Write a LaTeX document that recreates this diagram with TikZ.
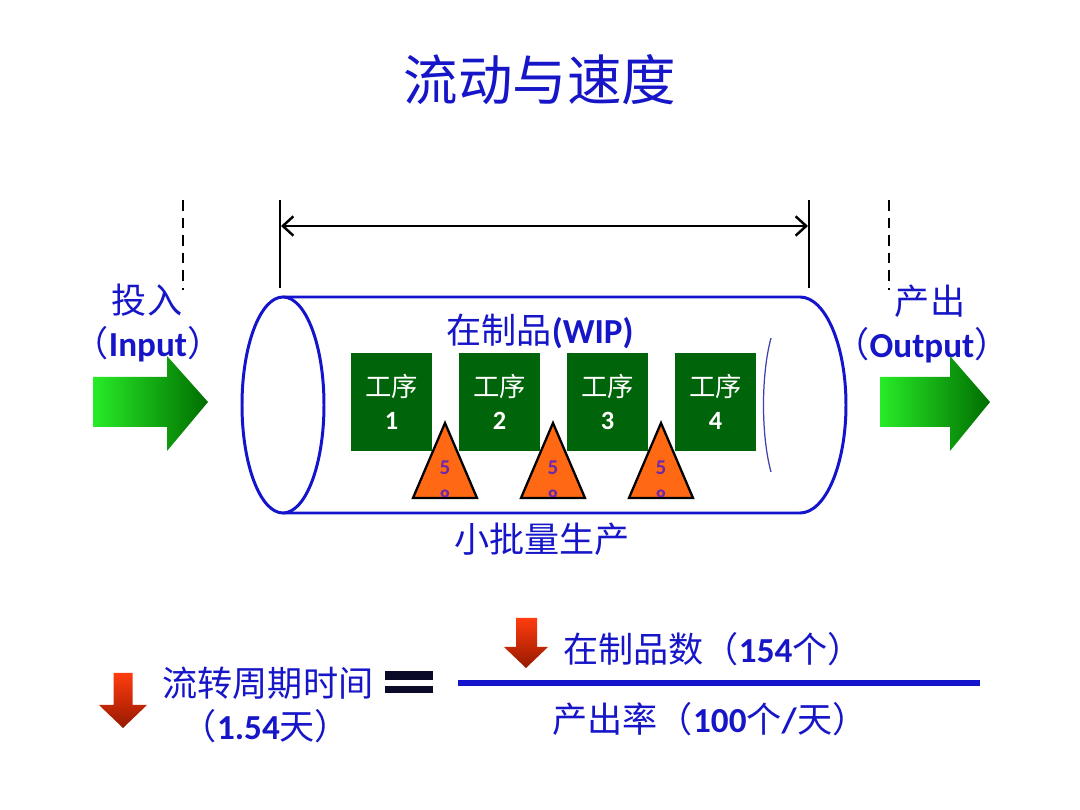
\documentclass[tikz,border=0pt]{standalone}
\usepackage{fontspec}
\setmainfont{Carlito}
\newfontfamily\cjk{Noto Sans CJK SC}
\usetikzlibrary{arrows.meta}
\definecolor{tblue}{RGB}{22,22,200}
\definecolor{cylblue}{RGB}{20,20,205}
\definecolor{boxgreen}{RGB}{0,100,10}
\definecolor{triorange}{RGB}{255,105,20}
\definecolor{tripurple}{RGB}{110,40,170}
\definecolor{arrbright}{RGB}{40,235,40}
\definecolor{arrdark}{RGB}{0,110,0}
\definecolor{redtop}{RGB}{255,60,15}
\definecolor{redbot}{RGB}{150,25,0}
\definecolor{navy}{RGB}{10,10,40}
\tikzset{
  cyl/.style={draw=cylblue, line width=1.7pt},
  stepbox/.style={rectangle, fill=boxgreen, minimum width=1.62cm, minimum height=1.96cm, inner sep=0pt, text=white, align=center, font=\fontsize{15}{19}\selectfont},
  wipbuf/.style={fill=triorange, draw=black, line width=1.3pt, line join=miter},
  bluetext/.style={text=tblue, inner sep=0pt, font=\fontsize{20}{24}\selectfont},
  dimline/.style={draw=black, line width=1.7pt},
  dashline/.style={draw=black, line width=1.6pt, dash pattern=on 6pt off 4pt},
  greenarrow/.style={left color=arrbright, right color=arrdark},
  redarrow/.style={top color=redtop, bottom color=redbot},
  tritext/.style={text=tripurple, font=\bfseries\fontsize{12}{13}\selectfont, inner sep=0pt},
}
\begin{document}
\begin{tikzpicture}[x=0.02cm,y=-0.02cm]
\useasboundingbox[fill=white] (0,0) rectangle (1080,810);

% title
\node[text=tblue, font=\cjk\fontsize{31}{36}\selectfont] (title) at (540,80) {流动与速度};

% dashed boundary lines
\coordinate (dla) at (183,200); \coordinate (dlb) at (183,290);
\coordinate (dra) at (889,200); \coordinate (drb) at (889,290);
\draw[dashline] (dla) -- (dlb);
\draw[dashline] (dra) -- (drb);

% dimension
\coordinate (va) at (280,200); \coordinate (vb) at (280,288);
\coordinate (wa) at (809,200); \coordinate (wb) at (809,288);
\draw[dimline] (va) -- (vb);
\draw[dimline] (wa) -- (wb);
\coordinate (dl) at (281,226); \coordinate (dr) at (808,226);
\draw[line width=1.4pt, {Straight Barb[length=6pt,width=11pt]}-{Straight Barb[length=6pt,width=11pt]}] (dl) -- (dr);

% cylinder
\draw[cyl] (283,297) -- (800,297) arc[start angle=-90, end angle=90, x radius=46, y radius=108] -- (283,513);
\draw[cyl, fill=white] (283,405) ellipse [x radius=41, y radius=108];
\draw[draw=cylblue!60!gray, line width=0.7pt] (771,338) .. controls (761,375) and (761,435) .. (771,472);

% labels in cylinder
\node[bluetext] (wip) at (540,331) {{\cjk 在制品}\textbf{(WIP)}};
\node[bluetext] (small) at (542,539) {\cjk 小批量生产};

% process boxes
\node[stepbox] (s1) at (391.5,402) {{\cjk 工序}\\\textbf{1}};
\node[stepbox] (s2) at (499.5,402) {{\cjk 工序}\\\textbf{2}};
\node[stepbox] (s3) at (607.5,402) {{\cjk 工序}\\\textbf{3}};
\node[stepbox] (s4) at (715.5,402) {{\cjk 工序}\\\textbf{4}};

% WIP triangles
\foreach \cx/\nm in {445/t1,553/t2,661/t3}{
  \draw[wipbuf] (\cx,423) -- (\cx-32,498) -- (\cx+32,498) -- cycle;
  \begin{scope}
    \clip (\cx,423) -- (\cx-32,497) -- (\cx+32,497) -- cycle;
    \node[tritext] (\nm a) at (\cx,468) {5};
    \node[tritext] (\nm b) at (\cx,497) {8};
  \end{scope}
}

% input / output
\node[bluetext] (inlab) at (147,300) {\cjk 投入};
\node[bluetext] (inlab2) at (148,344) {{\cjk （}\textbf{Input}{\cjk ）}};
\node[bluetext] (outlab) at (930,301) {\cjk 产出};
\node[bluetext] (outlab2) at (922,345) {{\cjk （}\textbf{Output}{\cjk ）}};

\shade[greenarrow] (93,377) -- (167,377) -- (167,356) -- (208,402) -- (167,451) -- (167,427) -- (93,427) -- cycle;
\shade[greenarrow] (880,377) -- (950,377) -- (950,356) -- (990,402) -- (950,451) -- (950,427) -- (880,427) -- cycle;

% formula
\shade[redarrow] (113.5,673) -- (132.5,673) -- (132.5,705) -- (147,705) -- (123,728) -- (99,705) -- (113.5,705) -- cycle;
\shade[redarrow] (516,618) -- (537,618) -- (537,647) -- (548,647) -- (526,668) -- (504,647) -- (516,647) -- cycle;

\node[bluetext] (ct) at (268,683) {\cjk 流转周期时间};
\node[bluetext] (ctv) at (266,726) {{\cjk （}\textbf{1.54}{\cjk 天）}};

\fill[navy] (385,671) rectangle (433,680);
\fill[navy] (385,686) rectangle (433,693);

\coordinate (fl) at (458,683); \coordinate (fr) at (980,683);
\draw[draw=cylblue, line width=3.4pt] (fl) -- (fr);

\node[bluetext] (num) at (713,649) {{\cjk 在制品数（}\textbf{154}{\cjk 个）}};
\node[bluetext] (den) at (710,719) {{\cjk 产出率（}\textbf{100}{\cjk 个}\textbf{/}{\cjk 天）}};
\end{tikzpicture}
\end{document}
